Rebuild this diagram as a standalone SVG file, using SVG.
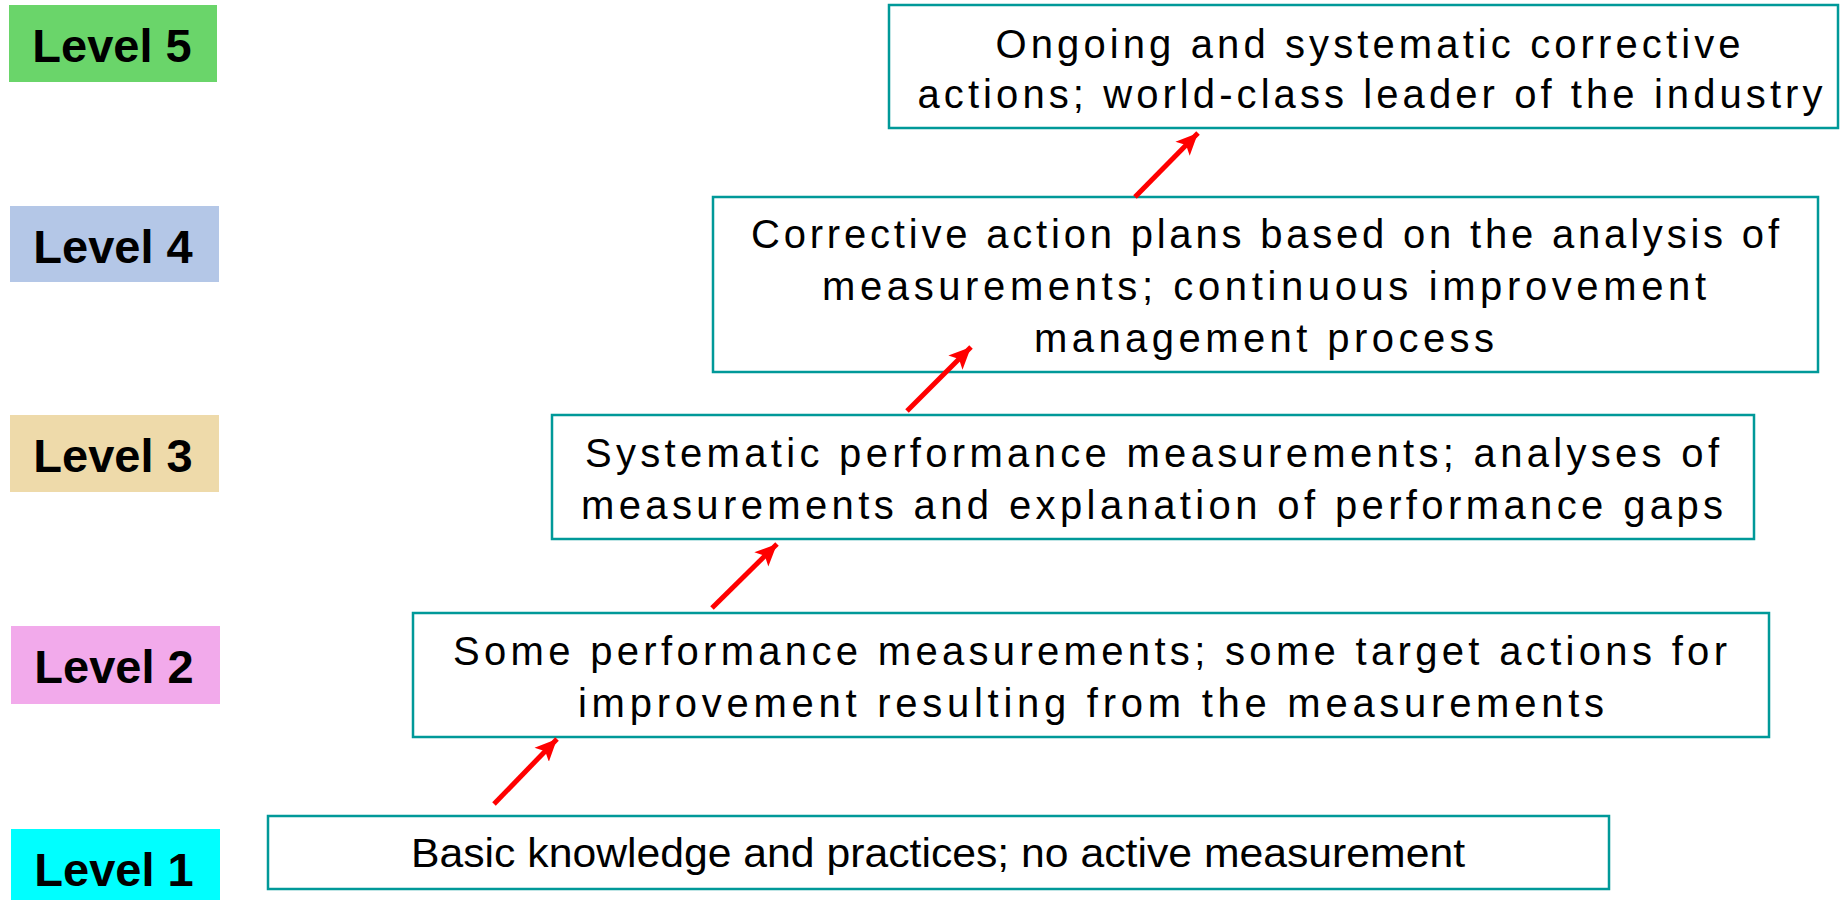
<svg xmlns="http://www.w3.org/2000/svg" width="1845" height="900" viewBox="0 0 1845 900">
<style>
.lvl{font-family:"Liberation Sans",Arial,sans-serif;font-weight:bold;font-size:47px;fill:#000;text-anchor:middle}
.box{fill:#fff;stroke:#009999;stroke-width:2.5}
.txt{font-family:"Liberation Sans",Arial,sans-serif;font-size:40px;fill:#000;text-anchor:middle}
.arr{stroke:#ff0000;stroke-width:5;fill:none;marker-end:url(#ah)}
</style>
<defs>
<marker id="ah" markerUnits="userSpaceOnUse" markerWidth="24" markerHeight="24" viewBox="0 0 24 24" refX="22" refY="12" orient="auto">
<path d="M0,2 L22,12 L0,22 L5,12 Z" fill="#ff0000"/>
</marker>
</defs>
<rect width="1845" height="900" fill="#fff"/>
<g id="level5"><rect x="9" y="5" width="208" height="77" fill="#6AD56A"/><text class="lvl" x="112" y="62">Level 5</text></g>
<g id="level4"><rect x="10" y="206" width="209" height="76" fill="#B4C7E7"/><text class="lvl" x="113" y="263">Level 4</text></g>
<g id="level3"><rect x="10" y="415" width="209" height="77" fill="#EEDAAA"/><text class="lvl" x="113" y="472">Level 3</text></g>
<g id="level2"><rect x="11" y="626" width="209" height="78" fill="#F2AAEB"/><text class="lvl" x="114" y="683">Level 2</text></g>
<g id="level1"><rect x="11" y="829" width="209" height="71" fill="#00FFFF"/><text class="lvl" x="114" y="886">Level 1</text></g>

<g id="box5"><rect class="box" x="889" y="5" width="949" height="123"/>
<text class="txt" x="1368" y="58" textLength="745" lengthAdjust="spacing">Ongoing and systematic corrective</text>
<text class="txt" x="1370" y="108" textLength="905" lengthAdjust="spacing">actions; world-class leader of the industry</text></g>
<g id="box4"><rect class="box" x="713" y="197" width="1105" height="175"/>
<text class="txt" x="1265" y="248" textLength="1028" lengthAdjust="spacing">Corrective action plans based on the analysis of</text>
<text class="txt" x="1264" y="300" textLength="884" lengthAdjust="spacing">measurements; continuous improvement</text>
<text class="txt" x="1264" y="352" textLength="460" lengthAdjust="spacing">management process</text></g>
<g id="box3"><rect class="box" x="552" y="415" width="1202" height="124"/>
<text class="txt" x="1152" y="467" textLength="1134" lengthAdjust="spacing">Systematic performance measurements; analyses of</text>
<text class="txt" x="1152" y="519" textLength="1142" lengthAdjust="spacing">measurements and explanation of performance gaps</text></g>
<g id="box2"><rect class="box" x="413" y="613" width="1356" height="124"/>
<text class="txt" x="1090" y="665" textLength="1274" lengthAdjust="spacing">Some performance measurements; some target actions for</text>
<text class="txt" x="1091" y="717" textLength="1026" lengthAdjust="spacing">improvement resulting from the measurements</text></g>
<g id="box1"><rect class="box" x="268" y="816" width="1341" height="73"/>
<text class="txt" x="938" y="867" font-size="42" textLength="1054" lengthAdjust="spacingAndGlyphs">Basic knowledge and practices; no active measurement</text></g>

<g id="connectors">
<line class="arr" x1="494" y1="804" x2="557" y2="739"/>
<line class="arr" x1="712" y1="608" x2="777" y2="544"/>
<line class="arr" x1="907" y1="411" x2="971" y2="347"/>
<line class="arr" x1="1135" y1="197" x2="1198" y2="133"/>
</g>
</svg>
